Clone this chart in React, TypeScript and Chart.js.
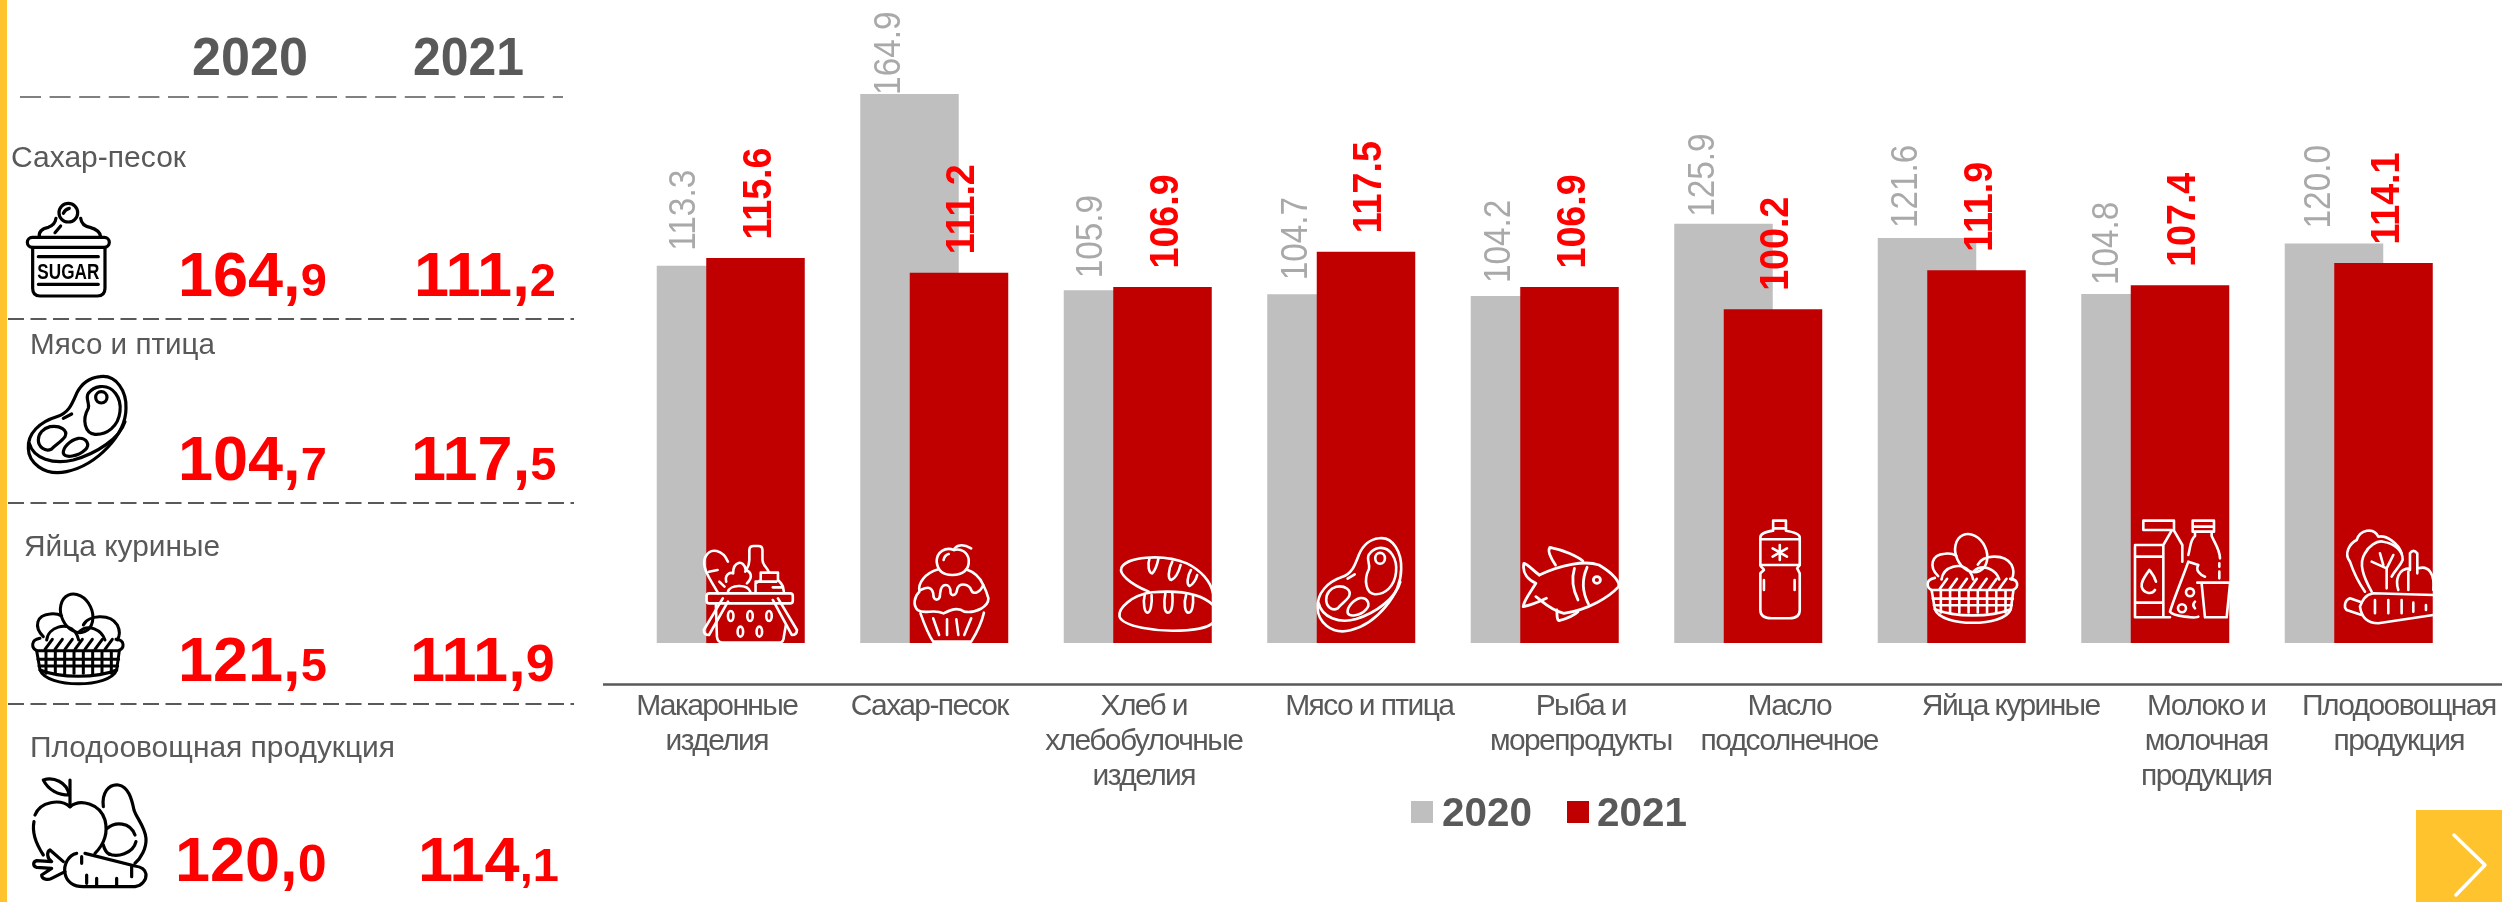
import React, { useEffect, useRef } from "react";
import { Chart, registerables } from "chart.js";

Chart.register(...registerables);

const categories: string[][] = [
  ["Макаронные", "изделия"],
  ["Сахар-песок"],
  ["Хлеб и", "хлебобулочные", "изделия"],
  ["Мясо и птица"],
  ["Рыба и", "морепродукты"],
  ["Масло", "подсолнечное"],
  ["Яйца куриные"],
  ["Молоко и", "молочная", "продукция"],
  ["Плодоовощная", "продукция"],
];
const seriesNames = ["2020", "2021"];
const values2020 = [113.3, 164.9, 105.9, 104.7, 104.2, 125.9, 121.6, 104.8, 120.0];
const values2021 = [115.6, 111.2, 106.9, 117.5, 106.9, 100.2, 111.9, 107.4, 114.1];

const GRAY = "#BFBFBF";
const RED = "#C00000";
const TEXT = "#595959";
const YELLOW = "#FFC32D";
const FONT = "'Liberation Sans', Arial, sans-serif";

const tickShift = [-14, -5, 6, 28, 36, 41, 59, 51, 40];
const grayLabelGap = [15, -1, 12, 14, 13, 7, 10, 9, 15];
const grayLabelShift = [-24, -23, -24, -23, -23, -23, -23, -26, -17];

const panelRows = [
  { name: "Сахар-песок", nx: 11, ny: 167, w: 175, base: 296, a: { x: 178, big: "164,", small: "9", s: 47 }, b: { x: 414, big: "111,", small: "2", s: 47 } },
  { name: "Мясо и птица", nx: 30, ny: 354, w: 185, base: 480, a: { x: 178, big: "104,", small: "7", s: 47 }, b: { x: 411, big: "117,", small: "5", s: 47 } },
  { name: "Яйца куриные", nx: 24, ny: 556, w: 196, base: 681, a: { x: 178, big: "121,", small: "5", s: 47 }, b: { x: 410, big: "111,", small: "9", s: 52 } },
  { name: "Плодоовощная продукция", nx: 30, ny: 757, w: 365, base: 881, a: { x: 175, big: "120,", small: "0", s: 52 }, b: { x: 418, big: "114", small: ",1", s: 47 } },
];

const panelLines = [
  { y: 97, x1: 20, x2: 563, dash: "21 8.6", color: "#808080" },
  { y: 319, x1: 8, x2: 574, dash: "16 6.5", color: TEXT },
  { y: 503, x1: 8, x2: 574, dash: "16 6.5", color: TEXT },
  { y: 704, x1: 8, x2: 574, dash: "16 6.5", color: TEXT },
];

const chartPlugin = {
  id: "sheet",
  beforeDraw(chart: any) {
    const ctx = chart.ctx;
    const scale = chart.scales.x;
    ctx.letterSpacing = "-1.6px";
    scale.getLabelItems().forEach((item: any, i: number) => {
      if (!item.moved) {
        item.options.translation[0] += tickShift[i];
        item.options.translation[1] -= 3;
        item.moved = true;
      }
    });
    ctx.save();
    ctx.strokeStyle = TEXT;
    ctx.lineWidth = 2.5;
    ctx.beginPath();
    ctx.moveTo(603, scale.top + 0.5);
    ctx.lineTo(chart.width, scale.top + 0.5);
    ctx.stroke();
    ctx.restore();
  },
  beforeDatasetsDraw(chart: any) {
    const ctx = chart.ctx;
    chart.getDatasetMeta(0).data.forEach((el: any, i: number) => {
      drawValue(ctx, values2020[i].toFixed(1), el.x + grayLabelShift[i], el.y - grayLabelGap[i], "37px", "#A9A9A9", 0.9);
    });
  },
  // 2021 overlaps 2020, so 2020 has to be painted first.
  beforeDatasetDraw(chart: any, args: any) {
    if (args.index === 0) return false;
    chart.getDatasetMeta(0).controller.draw();
    return true;
  },
  afterDatasetsDraw(chart: any) {
    const ctx = chart.ctx;
    chart.getDatasetMeta(1).data.forEach((el: any, i: number) => {
      drawValue(ctx, values2021[i].toFixed(1), el.x + 1, el.y - 18.5, "bold 40px", "#FF0000", 0.94);
    });
  },
};

function drawValue(ctx: any, text: string, x: number, y: number, font: string, color: string, squeeze: number) {
  ctx.save();
  ctx.letterSpacing = "0px";
  ctx.translate(x, y);
  ctx.rotate(-Math.PI / 2);
  ctx.scale(squeeze, 1);
  ctx.font = `${font} ${FONT}`;
  ctx.fillStyle = color;
  ctx.textAlign = "left";
  ctx.textBaseline = "alphabetic";
  const cap = parseFloat(font.replace("bold ", "")) * 0.358;
  ctx.fillText(text, 0, cap);
  ctx.restore();
}

const grid = [48, 76, 104, 132, 160, 188, 216, 244];
const hatch = [45, 75, 105, 135, 165, 195, 225];

function Meat({ transform, color, width }: any) {
  return (
    <g className="ic" transform={transform} stroke={color} strokeWidth={width}>
      <path d="M270 35C320 28 350 80 348 130C348 210 260 300 170 320C100 335 55 290 55 250C52 205 90 170 140 155C175 145 185 120 200 85C215 55 240 38 270 35Z" />
      <path d="M58 235C70 280 130 300 190 285C260 265 330 220 345 170" />
      <path d="M270 65C310 60 335 100 330 140C325 185 290 210 255 208C225 205 215 165 235 130C240 115 225 100 235 85C245 72 255 67 270 65Z" />
      <circle cx="274" cy="97" r="17" />
      <path d="M120 185C150 180 175 195 165 215C155 230 135 240 125 252C105 262 85 245 85 225C85 205 100 190 120 185Z" />
      <path d="M205 220C230 218 242 240 225 255C205 275 165 280 160 265C158 248 180 225 205 220Z" />
      <path d="M160 160L185 147" />
    </g>
  );
}

function Eggs({ transform, color, width }: any) {
  return (
    <g className="ic" transform={transform} stroke={color} strokeWidth={width}>
      <ellipse cx="140" cy="70" rx="46" ry="60" transform="rotate(-25 140 70)" />
      <path d="M40 140C10 110 20 75 60 72C75 70 85 72 95 78" />
      <path d="M160 105C175 75 240 70 262 105C272 125 268 140 262 150" />
      <path d="M50 150C55 110 110 95 135 125C142 135 145 145 146 150" />
      <path d="M148 125C175 100 215 120 225 150" />
      <path d="M30 145C0 150 5 175 20 182H265C285 175 285 150 258 148" />
      {hatch.map((x) => (
        <path key={x} d={`M${x} 178L${x + 22} 148`} />
      ))}
      <path d="M20 182L30 240C50 295 240 295 260 240L268 182" />
      <path d="M30 240C90 265 200 265 260 240" />
      <path d="M24 208H266M27 228H263" />
      {grid.map((x) => (
        <path key={x} d={`M${x} 184V250`} />
      ))}
    </g>
  );
}

function SugarIcon() {
  return (
    <g className="ic" transform="translate(10,190) scale(0.3333)" stroke="#000" strokeWidth="3.2">
      <circle cx="175" cy="68" r="28" />
      <path d="M160 70Q165 58 178 55" />
      <path d="M88 140Q85 118 115 112Q135 105 138 85M212 85Q215 108 240 112Q270 120 272 140" />
      <path d="M135 128L152 108" />
      <rect x="52" y="142" width="246" height="30" rx="15" />
      <path d="M68 172V295Q68 318 90 318H262Q285 318 285 295V172" />
      <path d="M85 200H265M85 283H265" />
      <text x="82" y="266" textLength="186" lengthAdjust="spacingAndGlyphs" fontFamily={FONT} fontWeight="bold" fontSize="66" style={{ fill: "#000", stroke: "none" }}>
        SUGAR
      </text>
    </g>
  );
}

function FruitIcon() {
  return (
    <g className="ic" transform="translate(20,770) scale(0.3333)" stroke="#000" strokeWidth="3.2">
      <path d="M70 30C100 20 140 35 148 75C115 75 85 60 70 30Z" />
      <path d="M150 30V110" />
      <path d="M150 110C120 85 60 95 45 135M42 155C35 190 50 225 70 255" />
      <path d="M150 110C180 85 240 100 255 150C265 190 250 225 225 250" />
      <path d="M250 110C245 70 265 42 295 45C325 50 335 85 342 120C350 145 375 170 378 205C380 235 362 265 345 280" />
      <path d="M262 175C285 155 330 155 345 195M348 215C340 250 290 265 265 250M250 225Q255 245 268 253" />
      <path d="M170 250C145 255 130 285 135 310C140 335 160 350 190 350H345C365 348 380 330 378 312C375 295 360 290 345 288L195 250" />
      <path d="M200 315V340M230 325V345M290 325V345M335 290V320M185 260V280" />
      <path d="M130 275L90 240C80 245 80 265 95 275L50 272C38 275 38 290 50 292L95 295L65 315C65 330 85 330 95 325L135 305" />
    </g>
  );
}

function BarIcons() {
  return (
    <g>
      <g className="ic" transform="translate(690,530) scale(0.345,0.3333)" stroke="#fff" strokeWidth="2.6">
        <path d="M110 95C95 60 60 50 45 80C30 110 60 150 82 190M55 125L80 120M85 155L100 170" />
        <path d="M172 90V60Q172 48 185 48H198Q210 48 210 60V90C210 105 222 110 228 125M172 90C172 110 165 115 160 125" />
        <path d="M205 128H255V150C270 165 270 170 272 185M190 155H250M205 128V150L190 160V185M240 172H270" />
        <path d="M110 185C115 165 165 160 175 185M105 155C100 135 115 125 125 130C125 95 155 85 162 120C175 125 185 140 165 160" />
        <rect x="48" y="190" width="250" height="30" rx="8" />
        <path d="M95 205L40 300Q40 315 55 315L110 215M240 210L295 315Q310 315 310 300L255 205" />
        <path d="M75 225L78 320Q80 338 95 338H260Q272 335 272 320L278 285" />
        {[[118, 258], [174, 258], [229, 258], [146, 305], [201, 305]].map(([x, y]) => (
          <ellipse key={x} cx={x} cy={y} rx="8" ry="15" />
        ))}
        <path d="M765 60C740 50 715 65 715 95C718 125 735 135 760 135C790 135 810 120 808 90C805 65 785 55 765 60Z" />
        <path d="M765 60C770 45 790 40 815 55M735 90Q738 75 750 72" />
        <path d="M720 118C680 130 660 160 665 185C650 200 645 225 660 240C680 255 705 235 735 250C755 240 775 230 795 245C830 250 865 230 865 205C860 185 855 175 850 165C840 140 820 125 800 118" />
        <path d="M668 180C690 170 700 170 705 190C705 215 725 215 725 190C728 155 755 160 755 185C755 200 772 200 775 175C785 155 810 165 815 180C820 195 840 190 850 165" />
        <path d="M668 250C680 285 695 320 705 335H815C830 310 845 280 852 248" />
        <path d="M705 265L722 315M745 268V315M772 268L778 315M815 265L795 315" />
        <path d="M1330 185C1270 160 1245 130 1250 115C1260 80 1370 70 1440 100C1480 120 1510 155 1516 190" />
        <path d="M1516 225C1480 190 1420 180 1340 187C1280 195 1240 235 1245 260C1255 290 1350 305 1420 302C1470 300 1516 290 1520 270" />
        <path d="M1332 85C1325 105 1330 130 1340 130C1350 120 1355 100 1358 85M1398 95C1385 120 1385 150 1395 150C1408 145 1418 120 1422 105M1452 120C1440 140 1440 165 1448 168C1458 165 1468 145 1470 135" />
        <path d="M1318 195C1312 220 1318 248 1326 248C1335 248 1340 220 1338 195M1378 190C1372 220 1375 248 1385 248C1398 248 1400 220 1398 190M1438 195C1430 220 1435 248 1445 248C1455 248 1460 225 1458 198" />
      </g>
      <Meat transform="translate(1302,527) scale(0.285,0.323)" color="#fff" width="2.6" />
      <g className="ic" transform="translate(620,450) scale(0.7018,0.3333)" stroke="#fff" strokeWidth="2.8">
        <path d="M1310 375C1340 345 1375 330 1395 345C1415 370 1425 395 1423 410C1410 440 1380 480 1345 490C1325 480 1315 455 1305 440" />
        <path d="M1310 375C1300 360 1295 345 1288 340C1285 370 1295 390 1305 400C1298 425 1288 450 1287 470C1300 465 1310 455 1320 445" />
        <path d="M1333 345C1325 320 1322 300 1325 292C1345 300 1365 320 1372 333" />
        <path d="M1335 480C1335 495 1335 510 1338 512C1350 505 1360 495 1365 485" />
        <path d="M1360 355C1355 390 1358 420 1365 450M1378 352C1370 390 1372 430 1380 462" />
        <ellipse cx="1392" cy="390" rx="5" ry="10" />
      </g>
      <g className="ic" transform="translate(1700,450) scale(0.5115,0.3333)" stroke="#fff" strokeWidth="2.6">
        <path d="M143 212H168V235H143Z" />
        <path d="M143 235V242C130 245 118 250 118 262V345C118 352 125 355 125 360L118 370V480C118 495 125 505 140 505H175C190 505 195 495 195 480V370L190 355L195 345V262C195 250 180 245 168 242V235" />
        <path d="M118 268H195M118 345H195" />
        <path d="M156 285V330M142 295L170 320M170 295L142 320" />
        <path d="M125 390V420M185 390V420" />
      </g>
      <Eggs transform="translate(1925,530) scale(0.33)" color="#fff" width="2.6" />
      <g className="ic" transform="translate(2120,510) scale(0.3333)" stroke="#fff" strokeWidth="2.6">
        <path d="M70 60V32H162V60M70 60H155M162 62L187 105V155M155 62L130 105M45 105H130M45 110V322H150M130 105V322M45 140H130M45 278H130" />
        <path d="M88 180C75 200 62 215 65 230C70 250 95 255 105 240M90 182C100 195 105 205 108 215" />
        <path d="M218 32H282V65H218ZM218 50H282M225 65V78C210 90 212 110 205 135M275 65V78C285 100 300 120 300 145M298 160V170M298 185V205" />
        <path d="M205 155C195 185 160 270 150 305C160 320 230 325 235 320M205 155L235 165C225 180 240 195 255 200" />
        <circle cx="210" cy="247" r="12" />
        <circle cx="186" cy="295" r="12" />
        <path d="M225 275Q215 285 225 295" />
        <path d="M232 218H330M245 222L255 322H320L330 222" />
        <path d="M735 245C710 210 695 170 690 155C670 130 690 100 710 90C720 60 760 50 775 80C800 75 835 100 845 130" />
        <path d="M755 245C730 200 715 160 735 130C745 110 770 90 790 95C820 100 850 120 848 150C840 170 825 180 815 200" />
        <path d="M800 235V175L755 155M800 175L820 135M790 165L780 130" />
        <path d="M870 180V130Q880 115 892 130V190M835 240C825 210 835 175 870 175M895 175C925 165 945 190 940 240M865 185V240" />
        <path d="M940 255L760 250C730 255 725 280 720 290C725 325 745 340 775 340L940 315" />
        <path d="M720 275L690 265C675 270 670 290 680 300L725 315" />
        <path d="M765 270V310M805 270V310M845 270V310M880 278V305M918 285V300" />
      </g>
    </g>
  );
}

function Value({ v, base }: any) {
  return (
    <text x={v.x} y={base} fontFamily={FONT} fontWeight="bold" fontSize="63" fill="#FF0000">
      {v.big}
      <tspan fontSize={v.s}>{v.small}</tspan>
    </text>
  );
}

function Overlay() {
  return (
    <svg width="2502" height="902" style={{ position: "absolute", left: 0, top: 0, pointerEvents: "none" }}>
      <style>{`.ic path,.ic circle,.ic ellipse,.ic rect{vector-effect:non-scaling-stroke;fill:none;stroke-linecap:round;stroke-linejoin:round}`}</style>
      <rect x="0" y="0" width="7" height="902" fill={YELLOW} />
      <text x="192" y="75" textLength="116" lengthAdjust="spacingAndGlyphs" fontFamily={FONT} fontWeight="bold" fontSize="53" fill={TEXT}>{seriesNames[0]}</text>
      <text x="413" y="75" textLength="111" lengthAdjust="spacingAndGlyphs" fontFamily={FONT} fontWeight="bold" fontSize="53" fill={TEXT}>{seriesNames[1]}</text>
      {panelLines.map((l) => (
        <line key={l.y} x1={l.x1} x2={l.x2} y1={l.y} y2={l.y} stroke={l.color} strokeWidth="2.2" strokeDasharray={l.dash} />
      ))}
      {panelRows.map((r) => (
        <g key={r.name}>
          <text x={r.nx} y={r.ny} textLength={r.w} lengthAdjust="spacingAndGlyphs" fontFamily={FONT} fontSize="30" fill={TEXT}>{r.name}</text>
          <Value v={r.a} base={r.base} />
          <Value v={r.b} base={r.base} />
        </g>
      ))}
      <SugarIcon />
      <Meat transform="translate(10,365) scale(0.3333)" color="#000" width="3.2" />
      <Eggs transform="translate(30,590) scale(0.3333)" color="#000" width="3" />
      <FruitIcon />
      <BarIcons />
      <rect x="1411" y="801" width="22" height="22" fill={GRAY} />
      <text x="1442" y="826" textLength="90" lengthAdjust="spacingAndGlyphs" fontFamily={FONT} fontWeight="bold" fontSize="41" fill={TEXT}>{seriesNames[0]}</text>
      <rect x="1567" y="801" width="22" height="22" fill={RED} />
      <text x="1597" y="826" textLength="90" lengthAdjust="spacingAndGlyphs" fontFamily={FONT} fontWeight="bold" fontSize="41" fill={TEXT}>{seriesNames[1]}</text>
      <rect x="2416" y="810" width="86" height="92" fill={YELLOW} />
      <path d="M2454 835L2485 865L2456 895" fill="none" stroke="#fff" strokeWidth="3.5" strokeLinecap="round" strokeLinejoin="round" />
    </svg>
  );
}

export default function App() {
  const canvasRef = useRef<HTMLCanvasElement>(null);
  useEffect(() => {
    const chart = new Chart(canvasRef.current as HTMLCanvasElement, {
      type: "bar",
      data: {
        labels: categories,
        datasets: [
          { label: seriesNames[0], data: values2020, backgroundColor: GRAY, borderWidth: 0 },
          { label: seriesNames[1], data: values2021, backgroundColor: RED, borderWidth: 0 },
        ],
      },
      plugins: [chartPlugin],
      options: {
        responsive: false,
        animation: false,
        layout: { padding: { left: 629, right: 41.5, top: 0, bottom: 0 } },
        datasets: { bar: { categoryPercentage: 0.4865, barPercentage: 1.99 } },
        plugins: { legend: { display: false }, tooltip: { enabled: false }, title: { display: false } },
        scales: {
          x: {
            type: "category",
            grid: { display: false },
            border: { display: false },
            afterFit: (s: any) => {
              s.height = 218;
            },
            ticks: {
              autoSkip: false,
              maxRotation: 0,
              minRotation: 0,
              padding: 0,
              color: TEXT,
              font: { family: "Liberation Sans", size: 30, lineHeight: 1.17 },
            },
          },
          y: { display: false, min: -12.31, max: 193.09 },
        },
      },
    } as any);
    return () => chart.destroy();
  }, []);
  return (
    <div style={{ position: "fixed", left: 0, top: 0, width: 2502, height: 902, overflow: "hidden", background: "#fff" }}>
      <canvas ref={canvasRef} width={2502} height={902} style={{ display: "block" }} />
      <Overlay />
    </div>
  );
}
